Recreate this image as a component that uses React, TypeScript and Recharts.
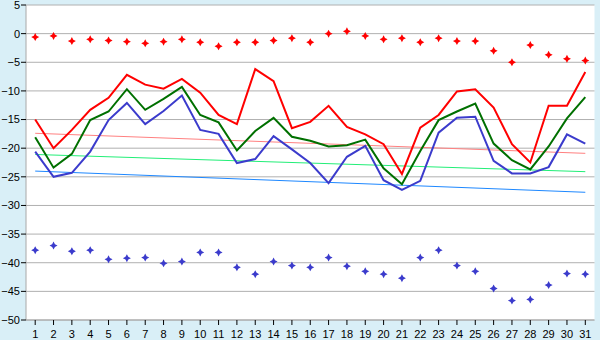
import React from 'react';
import { ComposedChart, Line, XAxis, YAxis, CartesianGrid } from 'recharts';

const days = [1,2,3,4,5,6,7,8,9,10,11,12,13,14,15,16,17,18,19,20,21,22,23,24,25,26,27,28,29,30,31];
const maxT = [-15,-20,-16.8,-13.3,-11.2,-7.2,-8.9,-9.6,-7.9,-10.3,-14.2,-15.8,-6.2,-8.3,-16.5,-15.4,-12.6,-16.3,-17.6,-19.3,-24.5,-16.4,-14.2,-10.1,-9.7,-12.9,-19.3,-22.5,-12.6,-12.6,-6.7];
const meanT = [-18.1,-23.4,-21.0,-15.1,-13.6,-9.7,-13.3,-11.4,-9.3,-14.2,-15.5,-20.4,-17.0,-14.7,-18.0,-18.7,-19.7,-19.5,-18.5,-23.5,-26.3,-20.5,-15.1,-13.6,-12.2,-19.2,-22.1,-23.7,-19.7,-14.8,-11.1];
const minT = [-20.6,-25.0,-24.3,-20.6,-15.1,-12.1,-15.8,-13.5,-10.8,-16.8,-17.5,-22.6,-21.9,-17.9,-20.2,-22.6,-26.1,-21.5,-19.6,-25.6,-27.3,-25.7,-17.3,-14.7,-14.5,-22.2,-24.4,-24.4,-23.3,-17.6,-19.2];
const recHigh = [-0.6,-0.4,-1.3,-1.0,-1.2,-1.4,-1.7,-1.4,-1.0,-1.5,-2.2,-1.5,-1.5,-1.2,-0.8,-1.5,0,0.4,-0.4,-1.0,-0.8,-1.5,-0.8,-1.3,-1.3,-3.0,-5.0,-2.0,-3.7,-4.4,-4.7];
const recLow = [-37.8,-37.0,-38.0,-37.8,-39.4,-39.2,-39.1,-40.1,-39.8,-38.2,-38.2,-40.8,-42.0,-39.8,-40.5,-40.8,-39.1,-40.6,-41.5,-42.0,-42.7,-39.1,-37.8,-40.5,-41.5,-44.5,-46.6,-46.4,-43.9,-41.9,-42.0];
const maxTrend = [-17.4, -20.9];
const meanTrend = [-21.1, -24.1];
const minTrend = [-24.0, -27.7];
const yTicks = [5,0,-5,-10,-15,-20,-25,-30,-35,-40,-45,-50];

const data = days.map((d, i) => ({
  day: String(d),
  max: maxT[i],
  mean: meanT[i],
  min: minT[i],
  hi: recHigh[i],
  lo: recLow[i],
  maxTr: i === 0 ? maxTrend[0] : i === days.length - 1 ? maxTrend[1] : null,
  meanTr: i === 0 ? meanTrend[0] : i === days.length - 1 ? meanTrend[1] : null,
  minTr: i === 0 ? minTrend[0] : i === days.length - 1 ? minTrend[1] : null,
}));

const makeStar = (color: string) => (props: any) => {
  const { cx, cy, index } = props;
  if (cx == null || cy == null) return <g key={index} />;
  const r = 4, k = 1.4;
  const d = `M${cx},${cy - r} L${cx + k},${cy - k} L${cx + r},${cy} L${cx + k},${cy + k} L${cx},${cy + r} L${cx - k},${cy + k} L${cx - r},${cy} L${cx - k},${cy - k} Z`;
  return <path key={index} d={d} fill={color} stroke="none" />;
};

const fmt = (v: number) => (v < 0 ? '\u2212' + Math.abs(v) : String(v));
const tickFont = { fill: '#000', fontSize: 11, fontFamily: 'Liberation Sans' };

export default function App() {
  return (
    <div style={{ position: 'absolute', left: 0, top: 0, width: 600, height: 340, background: '#d9eff7' }}>
      <ComposedChart width={600} height={340} data={data} margin={{ top: 5, right: 5.5, left: 0, bottom: 0 }}>
        <CartesianGrid vertical={false} stroke="#b0b0b0" fill="#ffffff" />
        <XAxis dataKey="day" height={20} tickSize={5} tickMargin={5.5} padding={{ left: 9.2, right: 9.2 }} stroke="#a8a8a8" tickLine={{ stroke: '#000' }} tick={tickFont} interval={0} />
        <YAxis domain={[-50, 5]} ticks={yTicks} width={26} tickSize={5} tickMargin={1} stroke="#a8a8a8" tickLine={{ stroke: '#000' }} tickFormatter={fmt} tick={tickFont} interval={0} />
        <YAxis yAxisId="r" orientation="right" width={0} tick={false} tickLine={false} stroke="#b0b0b0" domain={[-50, 5]} />
        <Line dataKey="maxTr" stroke="#ff8080" strokeWidth={1} dot={false} connectNulls isAnimationActive={false} />
        <Line dataKey="meanTr" stroke="#22ee77" strokeWidth={1} dot={false} connectNulls isAnimationActive={false} />
        <Line dataKey="minTr" stroke="#1e88ff" strokeWidth={1} dot={false} connectNulls isAnimationActive={false} />
        <Line dataKey="max" stroke="#ff0000" strokeWidth={2} dot={false} isAnimationActive={false} />
        <Line dataKey="mean" stroke="#007000" strokeWidth={2} dot={false} isAnimationActive={false} />
        <Line dataKey="min" stroke="#3b3bcc" strokeWidth={2} dot={false} isAnimationActive={false} />
        <Line dataKey="hi" stroke="none" strokeWidth={0} dot={makeStar('#ff0000')} activeDot={false} isAnimationActive={false} />
        <Line dataKey="lo" stroke="none" strokeWidth={0} dot={makeStar('#3b3bcc')} activeDot={false} isAnimationActive={false} />
      </ComposedChart>
    </div>
  );
}
